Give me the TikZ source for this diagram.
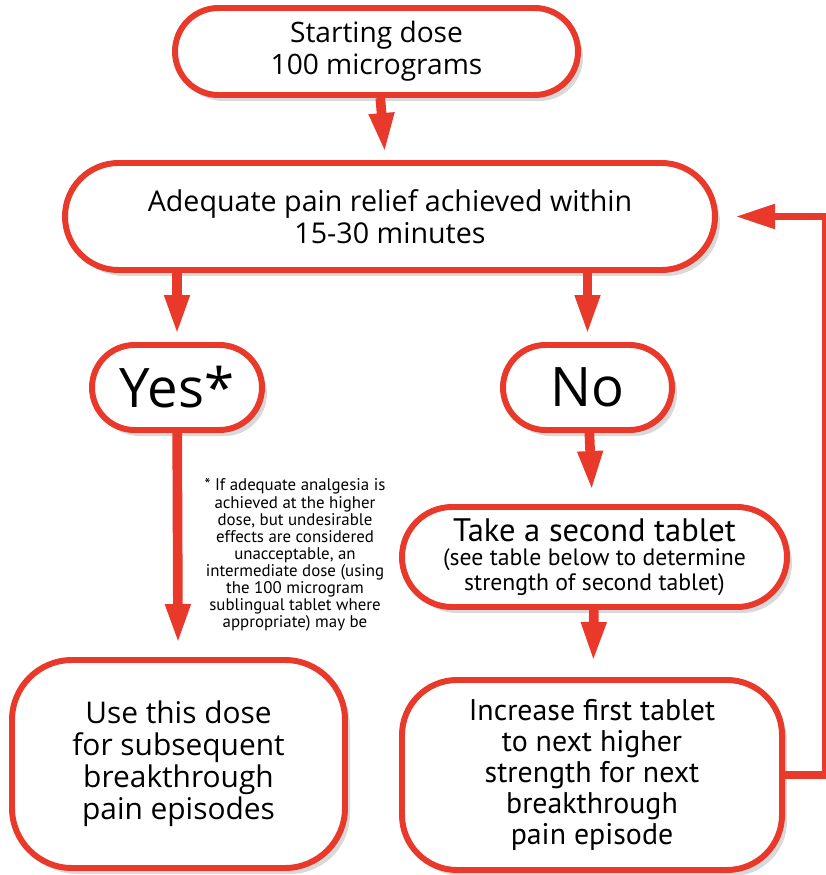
\documentclass[tikz,border=0pt]{standalone}
\usepackage{fontspec}
\setmainfont{Open Sans}
\newfontfamily\narrowfont{PT Sans}
\usetikzlibrary{arrows.meta, shadows}
\definecolor{flowred}{HTML}{E8392B}
\begin{document}
\begin{tikzpicture}[>={Triangle[width=0.46cm,length=0.8cm]},
    box/.style={draw=flowred, line width=3.4pt, fill=white, align=center, inner sep=0pt,
        drop shadow={shadow xshift=0.1cm, shadow yshift=-0.12cm, opacity=0.3}},
    flow/.style={->, draw=flowred, line width=5.5pt, shorten >=0.14cm}]
    \useasboundingbox (0,0) rectangle (16.5,-17.5);

    % Nodes
    \node[box, minimum width=8.06cm, minimum height=1.74cm, rounded corners=0.87cm,
        font=\fontsize{16}{18}\selectfont] at (7.53,-1.03) (start)
        {Starting dose\\100 micrograms};
    \node[box, minimum width=13cm, minimum height=2.14cm, rounded corners=1.07cm,
        font=\fontsize{16.3}{18}\selectfont] at (7.8,-4.33) (adequate)
        {Adequate pain relief achieved within\\15-30 minutes};
    \node[box, minimum width=3.4cm, minimum height=1.7cm, rounded corners=0.85cm,
        font=\fontsize{31}{32}\selectfont] at (3.54,-7.75) (yes) {Yes*};
    \node[box, minimum width=3.38cm, minimum height=1.7cm, rounded corners=0.85cm,
        font=\fontsize{31}{32}\selectfont] at (11.75,-7.75) (no) {No};
    \node[box, minimum width=7.7cm, minimum height=2cm, rounded corners=1cm,
        font=\narrowfont\fontsize{13.5}{13.8}\selectfont] at (11.89,-11.14) (second)
        {{\fontsize{18.5}{19}\selectfont Take a second tablet}\\(see table below to determine\\strength of second tablet)};
    \node[box, minimum width=7.6cm, minimum height=3.8cm, rounded corners=1.1cm,
        font=\narrowfont\fontsize{17}{17.6}\selectfont] at (11.84,-15.5) (increase)
        {Increase first tablet\\to next higher\\strength for next\\breakthrough\\pain episode};
    \node[box, minimum width=6.66cm, minimum height=4.16cm, rounded corners=1.2cm,
        font=\fontsize{17}{18.2}\selectfont] at (3.57,-15.28) (use)
        {Use this dose\\for subsequent\\breakthrough\\pain episodes};
    \node[align=center, inner sep=0pt, font=\narrowfont\fontsize{9.6}{9.7}\selectfont]
        at (5.9,-11.1) (note)
        {* If adequate analgesia is\\achieved at the higher\\dose, but undesirable\\effects are considered\\unacceptable, an\\intermediate dose (using\\the 100 microgram\\sublingual tablet where\\appropriate) may be};

    % Edges
    \draw[flow] (start) -- (adequate);
    \draw[flow] (adequate.south -| yes.north) -- (yes.north);
    \draw[flow] (adequate.south -| no.north) -- (no.north);
    \draw[flow, shorten >=0.26cm] (yes) -- (use);
    \draw[flow, shorten >=0.26cm] (no) -- (second);
    \draw[flow, shorten >=0.3cm] (second) -- (increase);
    \draw[flow, line width=4.5pt, shorten >=0.34cm] (increase.east) -- ++(0.82,0) |- (adequate.east);
\end{tikzpicture}
\end{document}
